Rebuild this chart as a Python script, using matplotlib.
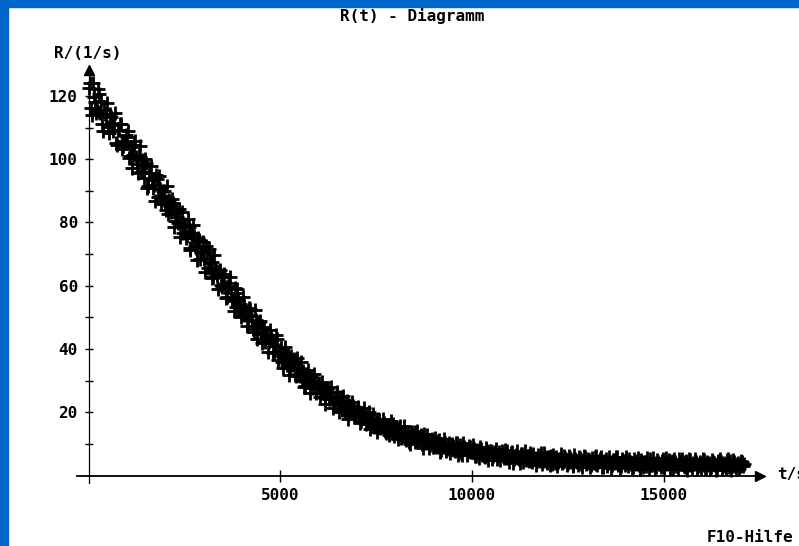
import numpy as np
import matplotlib.pyplot as plt
from matplotlib.patches import Rectangle

# Zählrate R in 1/s; zwei verschachtelte Messreihen, je ein Wert alle 50 s
dt = 50
rate_a = [
    122.5, 116.2, 124.0, 118.0, 115.5, 120.5, 114.7, 111.0, 115.7, 113.7,
    110.3, 114.3, 110.7, 111.5, 105.0, 109.2, 111.1, 105.7, 104.2, 105.3,
    106.9, 100.5, 104.0, 101.4, 105.7, 98.5, 101.3, 96.1, 98.2, 95.8,
    98.8, 91.4, 95.6, 93.5, 91.7, 95.0, 88.1, 90.6, 87.4, 90.0,
    83.9, 86.8, 87.0, 83.2, 86.3, 80.5, 81.6, 84.2, 79.4, 76.7,
    79.3, 75.7, 78.7, 71.3, 75.0, 75.8, 72.0, 75.2, 68.6, 71.1,
    68.5, 72.5, 65.7, 67.2, 67.6, 62.6, 65.2, 63.2, 64.8, 60.2,
    62.8, 59.6, 56.4, 61.0, 57.8, 55.8, 59.4, 53.2, 55.6, 54.2,
    50.7, 53.6, 52.1, 49.1, 52.7, 49.1, 45.3, 49.3, 47.2, 48.4,
    44.8, 47.1, 42.3, 44.3, 42.3, 43.6, 38.8, 41.0, 43.0, 37.9,
    39.0, 36.0, 38.7, 36.2, 38.1, 34.1, 34.9, 36.9, 31.5, 34.1,
    31.5, 32.6, 33.1, 28.4, 30.8, 29.7, 31.6, 27.6, 29.6, 27.8,
    29.2, 26.0, 26.9, 24.4, 26.6, 27.7, 24.2, 24.4, 22.5, 24.7,
    22.6, 24.7, 20.8, 22.7, 21.7, 19.1, 22.2, 20.3, 21.9, 19.0,
    20.4, 19.1, 17.1, 19.9, 18.7, 16.9, 20.0, 16.7, 17.4, 15.3,
    17.0, 17.8, 15.1, 15.5, 16.7, 13.4, 15.0, 15.5, 13.3, 16.2,
    13.4, 14.2, 14.9, 11.9, 13.3, 13.9, 12.3, 10.6, 13.5, 12.5,
    13.6, 10.8, 11.6, 12.1, 9.9, 13.2, 10.4, 11.1, 9.6, 11.4,
    9.0, 10.4, 9.5, 11.2, 8.1, 9.6, 10.2, 8.5, 10.3, 8.8,
    9.4, 7.7, 10.2, 8.1, 8.5, 6.5, 9.1, 8.4, 7.4, 9.1,
    7.5, 8.4, 6.3, 7.9, 9.0, 6.6, 7.2, 5.7, 7.7, 7.2,
    7.9, 6.2, 6.9, 5.1, 7.4, 6.4, 6.9, 8.0, 5.5, 5.9,
    6.1, 7.3, 5.1, 6.5, 5.5, 4.1, 6.7, 5.9, 5.0, 6.3,
    4.5, 5.8, 6.7, 5.1, 5.4, 4.5, 7.0, 4.7, 5.8, 3.8,
    5.8, 4.8, 3.7, 5.4, 6.0, 4.3, 5.1, 3.9, 6.2, 4.7,
    4.1, 5.6, 4.8, 3.2, 5.1, 4.3, 5.7, 3.7, 4.8, 6.0,
    4.0, 5.0, 3.3, 4.4, 5.7, 3.6, 4.2, 5.2, 2.7, 4.7,
    5.2, 3.8, 4.4, 3.3, 4.8, 5.7, 3.6, 4.1, 2.9, 4.5,
    3.3, 4.2, 5.2, 3.6, 2.7, 4.7, 4.0, 3.3, 4.8, 3.7,
    4.3, 2.9, 3.8, 5.2, 3.3, 4.0, 2.6, 4.4, 3.5, 4.7,
    2.8, 4.2, 3.5, 4.8, 3.8, 2.3, 4.4, 3.2, 5.1, 3.5,
    4.2, 2.8, 3.8, 3.2, 4.8, 2.5, 3.5, 4.2, 2.9, 4.4,
    3.2, 4.8, 2.4, 3.7, 4.0, 2.8, 4.4, 3.4, 2.1, 3.8,
    4.2, 3.0, 3.6, 4.9, 2.6, 3.4, 3.1, 4.4, 2.2, 3.8,
    2.9, 4.3, 3.6,
]
rate_b = [
    124.0, 113.9, 119.7, 114.6, 122.1, 114.8, 118.4, 108.9, 114.2, 117.9,
    108.4, 113.4, 108.9, 114.7, 104.4, 109.2, 111.0, 103.3, 105.2, 107.5,
    108.8, 101.1, 97.2, 104.6, 100.7, 95.6, 104.2, 99.7, 94.2, 100.0,
    91.0, 95.7, 97.9, 90.9, 86.9, 93.7, 94.8, 85.7, 89.9, 86.5,
    91.6, 82.7, 85.3, 87.4, 78.5, 84.1, 79.7, 75.3, 83.4, 79.5,
    75.2, 81.2, 72.0, 76.6, 79.1, 72.4, 68.1, 74.6, 70.8, 73.9,
    64.4, 70.7, 71.6, 65.2, 62.4, 69.6, 64.5, 59.0, 65.1, 59.6,
    63.8, 56.2, 59.9, 62.7, 55.2, 52.1, 57.6, 59.1, 53.3, 50.2,
    56.5, 50.6, 47.2, 53.0, 50.5, 46.3, 52.4, 43.1, 48.3, 48.9,
    41.8, 46.5, 43.7, 39.0, 46.0, 42.8, 38.9, 44.3, 36.6, 39.6,
    40.5, 34.1, 40.5, 34.8, 31.9, 37.9, 35.4, 31.7, 37.3, 32.0,
    35.9, 30.0, 28.1, 32.2, 33.2, 26.2, 29.3, 32.0, 26.1, 28.9,
    24.9, 29.5, 27.4, 22.5, 27.5, 24.3, 28.0, 21.4, 24.0, 26.3,
    20.0, 23.7, 25.2, 20.3, 23.6, 18.0, 21.3, 23.2, 18.8, 19.7,
    21.7, 16.7, 19.6, 21.4, 16.4, 19.3, 14.6, 17.8, 19.6, 15.8,
    13.7, 17.7, 15.9, 18.0, 14.0, 15.9, 12.7, 17.3, 15.5, 12.5,
    15.2, 11.5, 15.5, 12.8, 15.6, 11.2, 13.5, 10.0, 13.8, 12.4,
    10.5, 14.0, 10.8, 12.9, 8.8, 11.4, 12.8, 8.7, 11.2, 9.0,
    11.8, 9.0, 11.0, 7.5, 10.1, 11.4, 7.8, 9.1, 7.1, 9.9,
    8.2, 10.3, 6.6, 9.5, 7.1, 10.2, 8.3, 6.4, 9.3, 7.4,
    9.7, 6.2, 8.1, 5.6, 8.5, 7.2, 6.3, 8.8, 5.0, 7.9,
    5.2, 7.5, 8.5, 6.2, 4.8, 7.7, 5.4, 6.7, 7.9, 4.2,
    7.2, 4.1, 6.3, 7.6, 5.1, 6.7, 4.2, 7.6, 5.2, 6.1,
    7.2, 4.3, 5.4, 3.4, 6.6, 5.8, 3.7, 7.0, 4.5, 6.0,
    3.3, 6.1, 6.6, 3.9, 3.0, 5.2, 6.7, 4.2, 5.5, 3.4,
    6.2, 4.3, 2.9, 6.5, 4.7, 3.3, 5.5, 2.6, 6.1, 3.7,
    5.1, 2.6, 5.6, 3.8, 6.1, 3.2, 4.6, 5.8, 2.8, 4.2,
    3.1, 5.8, 2.5, 5.0, 4.1, 5.9, 3.4, 2.3, 5.1, 4.5,
    5.8, 3.1, 4.3, 2.3, 5.2, 3.6, 5.5, 2.1, 4.6, 2.8,
    4.4, 5.5, 2.4, 3.4, 5.6, 2.0, 4.8, 3.7, 2.8, 5.1,
    2.4, 5.5, 3.9, 1.9, 4.6, 5.1, 3.1, 2.0, 4.3, 5.2,
    2.9, 4.7, 1.8, 5.2, 3.2, 4.1, 5.3, 2.1, 3.5, 2.4,
    5.3, 2.2, 4.2, 3.3, 1.9, 4.9, 3.8, 1.7, 4.5, 5.1,
    2.0, 4.0, 2.5, 5.2, 4.5, 1.6, 5.0, 3.0, 3.6, 2.3,
    4.6, 3.0,
]
t_a = np.arange(len(rate_a)) * dt
t_b = np.arange(len(rate_b)) * dt + dt / 2

x_ticks = [5000, 10000, 15000]
y_ticks = [20, 40, 60, 80, 100, 120]
y_minor = [10, 30, 50, 70, 90, 110]

FONT = dict(family="DejaVu Sans Mono", weight="bold", size=11.5)

fig = plt.figure(figsize=(7.99, 5.46), dpi=100)
fig.patch.set_facecolor("white")
# blauer Fensterrahmen links und oben
fig.patches.append(Rectangle((0, 0), 8 / 799, 1, transform=fig.transFigure,
                             color="#0066cc", zorder=0))
fig.patches.append(Rectangle((0, 1 - 7 / 546), 1, 7 / 546, transform=fig.transFigure,
                             color="#0066cc", zorder=0))

ax = fig.add_axes([0.0960, 0.1152, 0.8557, 0.7566])
ax.set_xlim(-320, 17530)
ax.set_ylim(-2.4, 128.2)

for tt, rr in ((t_a, rate_a), (t_b, rate_b)):
    ax.plot(tt, rr, "+", color="black", ms=10, mew=2.0, clip_on=False)

for side in ("top", "right"):
    ax.spines[side].set_visible(False)
ax.spines["left"].set_position(("data", 0))
ax.spines["bottom"].set_position(("data", 0))
ax.spines["left"].set_linewidth(0.9)
ax.spines["bottom"].set_linewidth(1.3)

# Pfeilspitzen an den Achsen
ax.plot(1, 0, ">k", ms=7, transform=ax.get_yaxis_transform(), clip_on=False)
ax.plot(0, 1, "^k", ms=7, transform=ax.get_xaxis_transform(), clip_on=False)

ax.set_xticks(x_ticks)
ax.set_xticklabels([str(v) for v in x_ticks], fontdict=FONT)
ax.set_yticks(y_ticks)
ax.set_yticklabels([str(v) for v in y_ticks], fontdict=FONT)
ax.set_yticks(y_minor, minor=True)
ax.tick_params(axis="x", direction="inout", length=8, width=1, pad=5)
ax.tick_params(axis="y", which="both", direction="inout", length=6, width=1, pad=5)

fig.text(412 / 799, 1 - 16 / 546, "R(t) - Diagramm", ha="center", va="center", **FONT)
fig.text(88 / 799, 1 - 53 / 546, "R/(1/s)", ha="center", va="center", **FONT)
fig.text(777 / 799, 1 - 474 / 546, "t/s", ha="left", va="center", **FONT)
fig.text(707 / 799, 1 - 538 / 546, "F10-Hilfe", ha="left", va="center", **FONT)

fig.savefig("out.png", dpi=100)
